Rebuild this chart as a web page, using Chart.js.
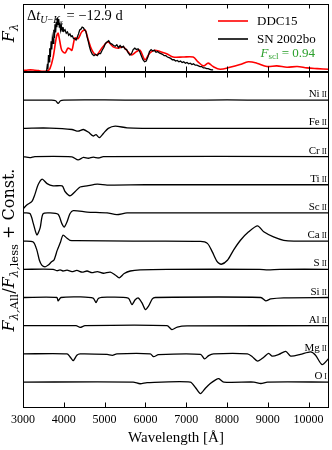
<!DOCTYPE html>
<html><head><meta charset="utf-8">
<script src="https://cdn.jsdelivr.net/npm/chart.js@4.4.1/dist/chart.umd.min.js"></script>
<style>
html,body{margin:0;padding:0;background:#fff;width:332px;height:450px;overflow:hidden}
#wrap{position:relative;width:332px;height:450px}
canvas{position:absolute;left:0;top:0}
</style></head><body>
<div id="wrap"><canvas id="bot" width="332" height="450"></canvas><canvas id="top" width="332" height="80"></canvas></div>
<script>
// ---------- DATA ----------
const wavelengthTicks = [3000,4000,5000,6000,7000,8000,9000,10000];

// Top panel: scaled model flux (DDC15) and observed SN 2002bo (normalised units)
const ddc15 = [[3000,0.02],[3120,0.03],[3250,0.03],[3380,0.02],[3490,0.01],[3600,0.02],[3660,0.05],[3740,0.22],[3800,0.45],[3830,0.54],[3860,0.57],[3900,0.46],[3950,0.32],[4030,0.28],[4100,0.35],[4150,0.34],[4200,0.32],[4270,0.50],[4350,0.49],[4440,0.59],[4520,0.62],[4600,0.47],[4690,0.32],[4800,0.25],[4930,0.35],[5080,0.44],[5210,0.37],[5330,0.35],[5450,0.37],[5540,0.32],[5660,0.25],[5780,0.30],[5870,0.32],[5990,0.18],[6110,0.28],[6230,0.32],[6360,0.30],[6520,0.27],[6680,0.22],[6920,0.22],[7170,0.22],[7290,0.15],[7420,0.09],[7540,0.13],[7660,0.08],[7830,0.04],[8070,0.07],[8320,0.11],[8520,0.15],[8730,0.13],[8980,0.08],[9220,0.09],[9470,0.07],[9720,0.08],[9960,0.06],[10210,0.05],[10500,0.04]];
const sn2002bo = [[3560,0.00],[3580,0.02],[3600,0.12],[3610,0.04],[3625,0.25],[3640,0.15],[3655,0.35],[3670,0.22],[3690,0.45],[3705,0.33],[3720,0.50],[3740,0.42],[3755,0.62],[3770,0.50],[3785,0.70],[3800,0.58],[3815,0.74],[3830,0.66],[3845,0.80],[3860,0.70],[3875,0.78],[3890,0.66],[3905,0.72],[3920,0.62],[3940,0.68],[3960,0.60],[3980,0.66],[4000,0.60],[4030,0.62],[4060,0.57],[4090,0.59],[4120,0.54],[4150,0.56],[4180,0.52],[4210,0.53],[4240,0.49],[4270,0.49],[4300,0.47],[4330,0.51],[4360,0.56],[4390,0.62],[4420,0.63],[4450,0.66],[4480,0.65],[4510,0.62],[4540,0.60],[4570,0.52],[4600,0.45],[4630,0.37],[4660,0.31],[4700,0.26],[4740,0.24],[4780,0.26],[4820,0.24],[4860,0.27],[4900,0.27],[4940,0.32],[4980,0.36],[5020,0.42],[5060,0.44],[5100,0.46],[5140,0.42],[5180,0.41],[5220,0.39],[5260,0.38],[5300,0.40],[5340,0.36],[5380,0.39],[5420,0.36],[5460,0.38],[5500,0.34],[5540,0.33],[5580,0.28],[5620,0.25],[5660,0.27],[5700,0.33],[5740,0.35],[5780,0.33],[5820,0.34],[5860,0.30],[5900,0.24],[5940,0.18],[5980,0.15],[6020,0.16],[6060,0.22],[6100,0.30],[6140,0.33],[6180,0.31],[6220,0.32],[6260,0.29],[6300,0.30],[6340,0.28],[6380,0.27],[6420,0.26],[6460,0.24],[6500,0.24],[6540,0.22],[6580,0.21],[6620,0.20],[6660,0.18],[6700,0.18],[6740,0.16],[6780,0.17],[6820,0.15],[6860,0.16],[6900,0.14],[6940,0.15],[6980,0.13],[7020,0.14],[7060,0.12],[7100,0.13],[7140,0.11],[7180,0.12],[7220,0.10],[7260,0.10],[7300,0.09],[7340,0.08],[7380,0.08],[7420,0.06],[7460,0.06],[7500,0.05],[7540,0.05],[7580,0.04],[7620,0.03],[7660,0.03]];

// Bottom panel: ratio minus one, per species (offset by constant)
const NiII = [[3000,0],[3700,0],[3800,-0.02],[3860,-0.11],[3920,-0.02],[4000,0],[5000,0.01],[6000,0],[7000,0],[8000,0.01],[9000,0],[10500,0]];
const FeII = [[3000,0],[3220,0.01],[3660,0.01],[4200,-0.04],[4350,-0.10],[4480,-0.04],[4600,-0.13],[4720,-0.27],[4790,-0.22],[4870,-0.33],[4970,-0.18],[5090,0],[5260,0.08],[5550,0.02],[6500,0],[10500,0]];
const CrII = [[3000,0],[3170,-0.04],[3290,0],[4200,-0.01],[4350,-0.12],[4480,-0.03],[4600,-0.06],[4720,-0.02],[4850,-0.05],[4970,0],[10500,0]];
const TiII = [[3000,-0.86],[3100,-0.71],[3220,-0.59],[3290,-0.35],[3370,0],[3470,0.20],[3590,0.04],[3740,-0.04],[3960,-0.04],[4030,-0.24],[4150,-0.39],[4280,-0.24],[4400,-0.08],[4570,-0.04],[4820,0.02],[5060,-0.01],[6000,0],[10500,0]];
const ScII = [[3000,0],[3170,-0.02],[3250,-0.36],[3340,-0.78],[3420,-0.53],[3490,-0.03],[3660,0],[3860,-0.05],[3950,-0.37],[4010,-0.50],[4080,-0.31],[4150,-0.03],[4230,0.08],[4570,0.03],[5060,0],[5300,-0.06],[5550,0],[10500,0]];
const CaII = [[3000,0],[3250,-0.03],[3340,-0.32],[3400,-0.67],[3460,-0.85],[3540,-0.91],[3620,-0.85],[3700,-0.73],[3760,-0.67],[3840,-0.32],[3920,-0.03],[3980,0.21],[4080,0.10],[4150,0.03],[4320,0.02],[5700,0],[7350,-0.01],[7520,-0.08],[7640,-0.38],[7760,-0.73],[7860,-0.82],[8010,-0.68],[8160,-0.32],[8330,0.03],[8530,0.33],[8750,0.54],[8900,0.33],[9140,0.15],[9390,0.03],[9640,0],[10500,0]];
const SII = [[3000,0],[3740,0],[3830,-0.05],[3910,-0.02],[3980,-0.06],[4080,-0.03],[4200,-0.08],[4320,-0.04],[4450,-0.10],[4570,-0.06],[4690,-0.12],[4820,-0.08],[4970,-0.14],[5140,-0.10],[5260,-0.20],[5360,-0.30],[5480,-0.15],[5630,-0.06],[5870,-0.02],[6530,0],[8800,0],[9000,-0.02],[9300,0],[10500,0]];
const SiII = [[3000,0],[3830,0],[3860,-0.12],[3930,0],[4400,0.02],[4720,-0.02],[4790,-0.18],[4850,-0.03],[5060,0.01],[5580,-0.02],[5670,-0.25],[5750,-0.08],[5830,-0.02],[5920,-0.20],[6000,-0.43],[6080,-0.30],[6170,-0.05],[6240,0],[8830,0],[8950,-0.12],[9070,-0.05],[9390,-0.01],[10500,0]];
const AlII = [[3000,0],[4300,0],[4400,-0.06],[4520,0],[6530,0],[6650,-0.14],[6780,-0.05],[7020,-0.01],[10500,0]];
const MgII = [[3000,0],[4080,0],[4150,-0.10],[4230,-0.24],[4320,-0.05],[4400,0],[5060,-0.02],[5190,-0.05],[5300,0],[6120,0],[6200,-0.10],[6320,-0.03],[7350,-0.02],[7450,-0.18],[7550,-0.06],[7670,0],[8500,0],[8620,-0.10],[8750,-0.26],[8900,-0.12],[9020,0.02],[9110,-0.08],[9270,-0.02],[9440,0.09],[9560,-0.08],[9800,-0.02],[10050,0.07],[10170,-0.05],[10330,-0.38],[10500,-0.15]];
const OI = [[3000,0],[5700,0],[5870,-0.06],[6040,-0.02],[7100,0],[7230,-0.20],[7350,-0.41],[7470,-0.22],[7590,-0.05],[7720,0.08],[7800,0.12],[7920,0],[8660,0],[8830,-0.05],[8990,0],[10500,0]];

const speciesNames = ['Ni','Fe','Cr','Ti','Sc','Ca','S','Si','Al','Mg','O'];
const speciesIons  = ['II','II','II','II','II','II','II','II','II','II','I'];
const speciesData  = [NiII,FeII,CrII,TiII,ScII,CaII,SII,SiII,AlII,MgII,OI];
const speciesOffsets = [11,10,9,8,7,6,5,4,3,2,1];

// ---------- HELPERS ----------
const SERIF = '"Liberation Serif","DejaVu Serif",serif';
const WIDE = '"DejaVu Serif","Liberation Serif",serif';
function fstr(s){ return (s.i?'italic ':'') + s.s + 'px ' + (s.f||SERIF); }
function rich(ctx, x, y, segs, align, rot, color){
  ctx.save(); ctx.translate(x,y); if(rot) ctx.rotate(-Math.PI/2);
  let w=0; for(const s of segs){ctx.font=fstr(s); w+=ctx.measureText(s.t).width + (s.gap||0);}
  let cx = align==='center'? -w/2 : align==='right'? -w : 0;
  ctx.textBaseline='alphabetic'; ctx.textAlign='left';
  for(const s of segs){ctx.font=fstr(s); ctx.fillStyle=s.c||color||'#000'; ctx.fillText(s.t,cx,s.dy||0); cx+=ctx.measureText(s.t).width + (s.gap||0);}
  ctx.restore();
}
function frame(chart, tickTop, tickBottom){
  const {ctx, chartArea:a, scales:{x}} = chart;
  ctx.save(); ctx.strokeStyle='#000'; ctx.lineWidth=1;
  const L=Math.floor(a.left)+0.5, R=Math.floor(a.right)-0.5, T=Math.floor(a.top)+0.5, B=Math.floor(a.bottom)-0.5;
  ctx.strokeRect(L,T,R-L,B-T);
  ctx.beginPath();
  for(const t of wavelengthTicks){
    const px=Math.round(x.getPixelForValue(t))+0.5;
    if(tickTop){ctx.moveTo(px,T);ctx.lineTo(px,T+tickTop);}
    if(tickBottom){ctx.moveTo(px,B);ctx.lineTo(px,B-tickBottom);}
  }
  ctx.stroke(); ctx.restore();
}

// ---------- TOP PANEL ----------
new Chart(document.getElementById('top'), {
  type:'line',
  data:{datasets:[
    {label:'DDC15', data:ddc15.map(([x,y])=>({x,y})), borderColor:'#ff0000', borderWidth:1.6, tension:0.3, pointRadius:0, order:2},
    {label:'SN 2002bo', data:sn2002bo.map(([x,y])=>({x,y})), borderColor:'#000', borderWidth:1.3, tension:0, pointRadius:0, order:1}
  ]},
  options:{
    responsive:false, animation:false, events:[],
    layout:{padding:{left:23,right:3,top:4,bottom:8}},
    scales:{x:{type:'linear',min:3000,max:10500,display:false}, y:{min:0,max:1,display:false}},
    plugins:{legend:{display:false},tooltip:{enabled:false}}
  },
  plugins:[{id:'deco', afterDraw(chart){
    const ctx=chart.ctx;
    frame(chart,4,5);
    rich(ctx,14,33,[{t:'F',s:16,i:true,f:WIDE},{t:'λ',s:11.5,i:true,dy:4,f:WIDE}],'center',true);
    rich(ctx,27,20,[{t:'Δ',s:14.5},{t:'t',s:14.5,i:true},{t:'U',s:10,i:true,dy:3},{t:'−',s:10,dy:3},{t:'K',s:10,i:true,dy:3},{t:'s',s:7.5,i:true,dy:5},{t:' = −12.9 d',s:14.5}],'left',false);
    ctx.save(); ctx.lineWidth=1.6;
    ctx.strokeStyle='#ff0000'; ctx.beginPath(); ctx.moveTo(218,21); ctx.lineTo(248,21); ctx.stroke();
    ctx.strokeStyle='#000'; ctx.beginPath(); ctx.moveTo(218,39); ctx.lineTo(248,39); ctx.stroke();
    ctx.restore();
    rich(ctx,257,25,[{t:chart.data.datasets[0].label,s:13}],'left',false);
    rich(ctx,257,43,[{t:chart.data.datasets[1].label,s:13}],'left',false);
    rich(ctx,315,57,[{t:'F',s:13,i:true,c:'#2ca02c'},{t:'scl',s:9,dy:2,c:'#2ca02c'},{t:' = 0.94',s:13,c:'#2ca02c'}],'right',false);
  }}]
});

// ---------- BOTTOM PANEL ----------
new Chart(document.getElementById('bot'), {
  type:'line',
  data:{datasets: speciesData.map((arr,i)=>({
    label: speciesNames[i]+' '+speciesIons[i],
    data: arr.map(([x,v])=>({x, y:v+speciesOffsets[i]})),
    borderColor:'#000', borderWidth:1.3, tension:0.25, pointRadius:0
  }))},
  options:{
    responsive:false, animation:false, events:[],
    layout:{padding:{left:23,right:3,top:72,bottom:0}},
    scales:{
      x:{type:'linear',min:3000,max:10500,position:'bottom',
         afterFit:(s)=>{s.height=42;},
         afterBuildTicks:(s)=>{s.ticks = wavelengthTicks.map(v=>({value:v}));},
         grid:{display:false,drawTicks:false}, border:{display:false},
         ticks:{autoSkip:false,maxRotation:0,padding:5,color:'#000',
                font:{family:SERIF,size:12}, callback:(v)=>String(v)},
         title:{display:true,text:'Wavelength [Å]',color:'#000',font:{family:SERIF,size:15},padding:{top:0,bottom:3}}},
      y:{min:0.08,max:12,display:false}
    },
    plugins:{legend:{display:false},tooltip:{enabled:false}}
  },
  plugins:[{id:'deco2', afterDraw(chart){
    const ctx=chart.ctx, y=chart.scales.y, a=chart.chartArea;
    frame(chart,5,5);
    speciesNames.forEach((n,i)=>{
      const py = y.getPixelForValue(speciesOffsets[i]) - 3;
      rich(ctx,a.right-2,py,[{t:n,s:11,gap:2},{t:speciesIons[i],s:8,gap:0}],'right',false);
    });
    rich(ctx,14,(a.top+a.bottom)/2 + 10,[
      {t:'F',s:16,i:true,f:WIDE},{t:'λ,',s:11.5,i:true,dy:4,f:WIDE},{t:'All',s:11.5,dy:4,f:WIDE},
      {t:'/',s:16,f:WIDE},{t:'F',s:16,i:true,f:WIDE},{t:'λ,',s:11.5,i:true,dy:4,f:WIDE},{t:'less',s:11.5,dy:4,f:WIDE},
      {t:' + Const.',s:16,f:WIDE}],'center',true);
  }}]
});
</script>
</body></html>
